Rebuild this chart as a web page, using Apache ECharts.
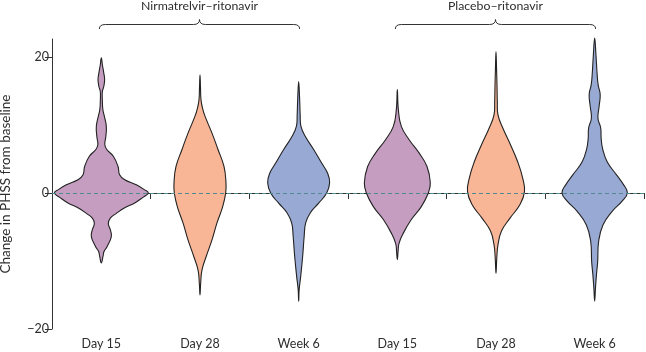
<!DOCTYPE html>
<html>
<head>
<meta charset="utf-8">
<script src="https://cdn.jsdelivr.net/npm/echarts@6/dist/echarts.min.js"></script>
<style>
html,body{margin:0;padding:0;background:#fff;}
#chart{width:646px;height:352px;}
</style>
</head>
<body>
<div id="chart"></div>
<script>
// Categories (x axis)
const categories = ['Day 15', 'Day 28', 'Week 6', 'Day 15', 'Day 28', 'Week 6'];
// Treatment groups: label, first and last category index
const groupLabels = ['Nirmatrelvir–ritonavir', 'Placebo–ritonavir'];
const groupStart = [0, 3];
const groupEnd = [2, 5];
// Y axis tick labels
const yTicks = [-20, 0, 20];

// Violin profiles: [change in PHSS, relative density]
const nirmDay15 = [[19.9,0],[18.9,1],[17.6,2.5],[16.7,3.3],[15.7,2.5],[14.9,1],[13.7,1],[12.3,1.5],[11.3,3],[9.8,5],[8.3,4.5],[7.1,3.5],[6.4,5.5],[5.4,12],[3.9,16.7],[2.7,18.3],[2.0,23],[1.2,35],[0.5,43],[0,47],[-0.6,42],[-1.5,33],[-2.2,23],[-3.0,15],[-3.7,9],[-4.5,7],[-5.4,9],[-6.4,10],[-7.9,5.7],[-8.6,2.7],[-9.3,1.7],[-10.3,0]];
const nirmDay28 = [[17.4,0],[15.5,0.5],[13.7,1],[12.5,2.5],[11.3,5],[8.8,12],[6.4,18],[3.9,24],[1.5,26],[0,25.7],[-2.0,22.7],[-4.4,17],[-6.9,12],[-9.3,6.3],[-11.3,2],[-13.2,0.7],[-15.0,0]];
const nirmWeek6 = [[16.4,0],[13.7,1],[11.5,1.5],[9.8,2.3],[8.3,6.7],[6.4,15],[4.4,23],[2.9,29],[1.5,31],[0,28],[-1.5,20],[-2.9,11.7],[-4.4,7],[-6.4,5.5],[-9.3,4],[-12.3,2],[-14.2,0.5],[-15.9,0]];
const placDay15 = [[15.2,0],[12.3,1],[9.8,4],[7.8,12],[5.9,21.7],[3.9,29.7],[1.5,33],[0,31],[-2.0,24],[-3.9,14],[-5.9,6],[-7.4,1.7],[-8.5,0.8],[-9.8,0]];
const placDay28 = [[20.8,0],[18.0,0.6],[15.9,1],[13.5,1.3],[11.5,2],[9.6,6.7],[7.1,14.5],[4.6,21.7],[2.2,26.7],[0.2,28.5],[-1.7,24],[-3.7,14],[-5.6,5.5],[-7.6,2],[-9.5,0.8],[-11.8,0]];
const placWeek6 = [[22.8,0],[20.3,1.3],[17.4,2.5],[15.9,3.5],[14.5,5.5],[12.8,4.5],[11.0,3.3],[9.6,6],[8.0,6.5],[6.5,8],[4.6,12.5],[2.7,21.7],[1.2,29],[0,32.7],[-1.2,27.5],[-2.7,17.5],[-4.7,8.3],[-7.1,4],[-10.1,3],[-12.0,1.8],[-14.0,0.8],[-15.9,0]];

const violins = [nirmDay15, nirmDay28, nirmWeek6, placDay15, placDay28, placWeek6];
const colors = ['#c49dc0', '#f9b697', '#98a9d4', '#c49dc0', '#f9b697', '#98a9d4'];

const FONT = 'Lato';
const TEXT = '#2e2e2e';
let densityMax = 0;
violins.forEach(v => v.forEach(p => { if (p[1] > densityMax) densityMax = p[1]; }));

function renderViolin(params, api) {
  const i = params.dataIndex;
  const prof = violins[i];
  const cx = api.coord([i, 0])[0];
  const band = api.size([1, 0])[0];
  const k = band * 0.5 * 0.952 / densityMax;
  const pts = [];
  for (let j = 0; j < prof.length; j++) {
    const y = api.coord([i, prof[j][0]])[1];
    pts.push([cx + prof[j][1] * k, y]);
  }
  for (let j = prof.length - 2; j >= 1; j--) {
    const y = api.coord([i, prof[j][0]])[1];
    pts.push([cx - prof[j][1] * k, y]);
  }
  return {
    type: 'polygon',
    shape: { points: pts, smooth: 0.45 },
    style: { fill: colors[i], stroke: '#222', lineWidth: 1.1 }
  };
}

function renderBracket(params, api) {
  const g = params.dataIndex;
  const top = api.coord([groupStart[g], 22.65])[1];
  const x1 = api.coord([groupStart[g], 0])[0] - 2;
  const x2 = api.coord([groupEnd[g], 0])[0] + 1;
  const xm = (x1 + x2) / 2;
  const yE = top - 10, yH = top - 14.5, yP = top - 19.5, r = 6;
  const st = { stroke: '#333', lineWidth: 1, fill: null };
  return {
    type: 'group',
    children: [
      { type: 'bezierCurve', shape: { x1: x1, y1: yE, cpx1: x1, cpy1: yH, x2: x1 + r, y2: yH }, style: st },
      { type: 'line', shape: { x1: x1 + r, y1: yH, x2: xm - r, y2: yH }, style: st },
      { type: 'bezierCurve', shape: { x1: xm - r, y1: yH, cpx1: xm, cpy1: yH, x2: xm, y2: yP }, style: st },
      { type: 'bezierCurve', shape: { x1: xm, y1: yP, cpx1: xm, cpy1: yH, x2: xm + r, y2: yH }, style: st },
      { type: 'line', shape: { x1: xm + r, y1: yH, x2: x2 - r, y2: yH }, style: st },
      { type: 'bezierCurve', shape: { x1: x2 - r, y1: yH, cpx1: x2, cpy1: yH, x2: x2, y2: yE }, style: st },
      { type: 'text', style: { text: groupLabels[g], x: xm, y: top - 33, align: 'center', verticalAlign: 'middle', fill: TEXT, font: '12.3px ' + FONT } }
    ]
  };
}

const chart = echarts.init(document.getElementById('chart'), null, { renderer: 'canvas' });
chart.setOption({
  animation: false,
  backgroundColor: '#ffffff',
  grid: { left: 52, right: 2, top: 39, bottom: 23, containLabel: false, outerBoundsMode: 'none' },
  xAxis: {
    type: 'category',
    data: categories,
    boundaryGap: true,
    axisLine: { lineStyle: { color: '#333', width: 1 } },
    axisTick: { show: true, length: 6, lineStyle: { color: '#333' } },
    axisLabel: { color: TEXT, fontSize: 12.5, fontFamily: FONT, margin: 8, interval: 0 },
    splitLine: { show: false }
  },
  yAxis: {
    type: 'value',
    min: -20,
    max: 22.65,
    name: 'Change in PHSS from baseline',
    nameLocation: 'middle',
    nameGap: 39,
    nameTextStyle: { color: TEXT, fontSize: 13.5, fontFamily: FONT },
    axisLine: { show: true, lineStyle: { color: '#333', width: 1 } },
    axisTick: { show: true, length: 7, customValues: yTicks, lineStyle: { color: '#333' } },
    axisLabel: { color: TEXT, fontSize: 12.5, fontFamily: FONT, margin: 3, customValues: yTicks,
      formatter: v => String(v).replace('-', '\u2212') },
    splitLine: { show: false }
  },
  series: [
    {
      type: 'custom',
      name: 'violins',
      renderItem: renderViolin,
      clip: false,
      data: categories.map((c, i) => [i, 0]),
      z: 2
    },
    {
      type: 'line',
      name: 'baseline',
      data: [],
      z: 5,
      markLine: {
        silent: true,
        symbol: ['none', 'none'],
        label: { show: false },
        lineStyle: { type: [4, 3], color: '#4e8a90', width: 1 },
        data: [{ yAxis: 0 }]
      }
    },
    {
      type: 'custom',
      name: 'groups',
      renderItem: renderBracket,
      clip: false,
      data: groupLabels.map((g, i) => [groupStart[i], 0]),
      z: 3
    }
  ]
});
</script>
</body>
</html>
